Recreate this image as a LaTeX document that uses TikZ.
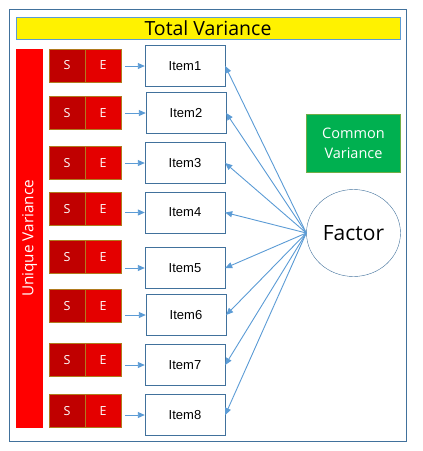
\documentclass[tikz,border=0pt]{standalone}
\usepackage{fontspec}
\setmainfont{Liberation Sans}
\newfontfamily\uifont{Open Sans}
\usetikzlibrary{arrows.meta,shapes.geometric}
\definecolor{frameblue}{RGB}{65,113,156}
\definecolor{lineblue}{RGB}{91,155,213}
\definecolor{darkred}{RGB}{192,0,0}
\definecolor{brightred}{RGB}{228,0,0}
\definecolor{seborder}{RGB}{176,122,30}
\definecolor{leafgreen}{RGB}{0,176,80}
\definecolor{leafborder}{RGB}{112,173,71}
\tikzset{itembox/.style={draw=frameblue,fill=white,minimum width=80pt,minimum height=41pt,inner sep=0pt,font=\fontsize{13}{15}\selectfont}}
\tikzset{sbox/.style={draw=seborder,fill=darkred,text=white,minimum width=36pt,minimum height=33pt,inner sep=0pt,font=\uifont\fontsize{12.5}{14}\selectfont}}
\tikzset{ebox/.style={sbox,fill=brightred}}
\tikzset{loading/.style={-{Triangle[width=6pt,length=7pt]},lineblue,line width=0.9pt}}

\begin{document}
\begin{tikzpicture}[x=1pt,y=-1pt]

	\useasboundingbox (0,0) rectangle (423,451);
	\draw[frameblue,line width=1pt] (9.5,9.5) rectangle (406.5,441);
	\node[draw=lineblue,fill=yellow,minimum width=384pt,minimum height=22pt,inner sep=0pt,font=\uifont\fontsize{19.5}{21}\selectfont] (total) at (208,28) {Total Variance};
	\node[fill=red,text=white,rotate=90,minimum width=379pt,minimum height=27pt,inner sep=0pt,font=\uifont\fontsize{15.3}{17}\selectfont] (unique) at (29.5,238.5) {Unique Variance};

	\node[sbox] (s1) at (67,65.5) {S};
	\node[ebox] (e1) at (103,65.5) {E};
	\node[sbox] (s2) at (67,113) {S};
	\node[ebox] (e2) at (103,113) {E};
	\node[sbox] (s3) at (67,163) {S};
	\node[ebox] (e3) at (103,163) {E};
	\node[sbox] (s4) at (67,209) {S};
	\node[ebox] (e4) at (103,209) {E};
	\node[sbox] (s5) at (67,257) {S};
	\node[ebox] (e5) at (103,257) {E};
	\node[sbox] (s6) at (67,306) {S};
	\node[ebox] (e6) at (103,306) {E};
	\node[sbox] (s7) at (67,360) {S};
	\node[ebox] (e7) at (103,360) {E};
	\node[sbox] (s8) at (67,411) {S};
	\node[ebox] (e8) at (103,411) {E};

	\node[itembox] (item1) at (185,66) {Item1};
	\node[itembox] (item2) at (186,113) {Item2};
	\node[itembox] (item3) at (185,163) {Item3};
	\node[itembox] (item4) at (185,212.5) {Item4};
	\node[itembox] (item5) at (185,268) {Item5};
	\node[itembox] (item6) at (186,315) {Item6};
	\node[itembox] (item7) at (185,365) {Item7};
	\node[itembox] (item8) at (185,415) {Item8};

	\node[draw=leafborder,fill=leafgreen,text=white,minimum width=94pt,minimum height=58pt,inner sep=0pt,align=center,font=\uifont\fontsize{14.5}{20}\selectfont] (common) at (353.5,143.5) {Common\\Variance};
	\node[ellipse,draw=frameblue,fill=white,minimum width=94pt,minimum height=87pt,inner sep=0pt,font=\uifont\fontsize{21}{23}\selectfont] (factor) at (353.5,233) {Factor};

	\draw[loading,shorten <=4pt] (e1.east |- item1.west) -- (item1.west);
	\draw[loading,shorten <=4pt] (e2.east |- item2.west) -- (item2.west);
	\draw[loading,shorten <=4pt] (e3.east |- item3.west) -- (item3.west);
	\draw[loading,shorten <=4pt] (e4.east |- item4.west) -- (item4.west);
	\draw[loading,shorten <=4pt] (e5.east |- item5.west) -- (item5.west);
	\draw[loading,shorten <=4pt] (e6.east |- item6.west) -- (item6.west);
	\draw[loading,shorten <=4pt] (e7.east |- item7.west) -- (item7.west);
	\draw[loading,shorten <=4pt] (e8.east |- item8.west) -- (item8.west);

	\draw[loading] (factor.west) -- (item1.east);
	\draw[loading] (factor.west) -- (item2.east);
	\draw[loading] (factor.west) -- (item3.east);
	\draw[loading] (factor.west) -- (item4.east);
	\draw[loading] (factor.west) -- (item5.east);
	\draw[loading] (factor.west) -- (item6.east);
	\draw[loading] (factor.west) -- (item7.east);
	\draw[loading] (factor.west) -- (item8.east);
\end{tikzpicture}
\end{document}
